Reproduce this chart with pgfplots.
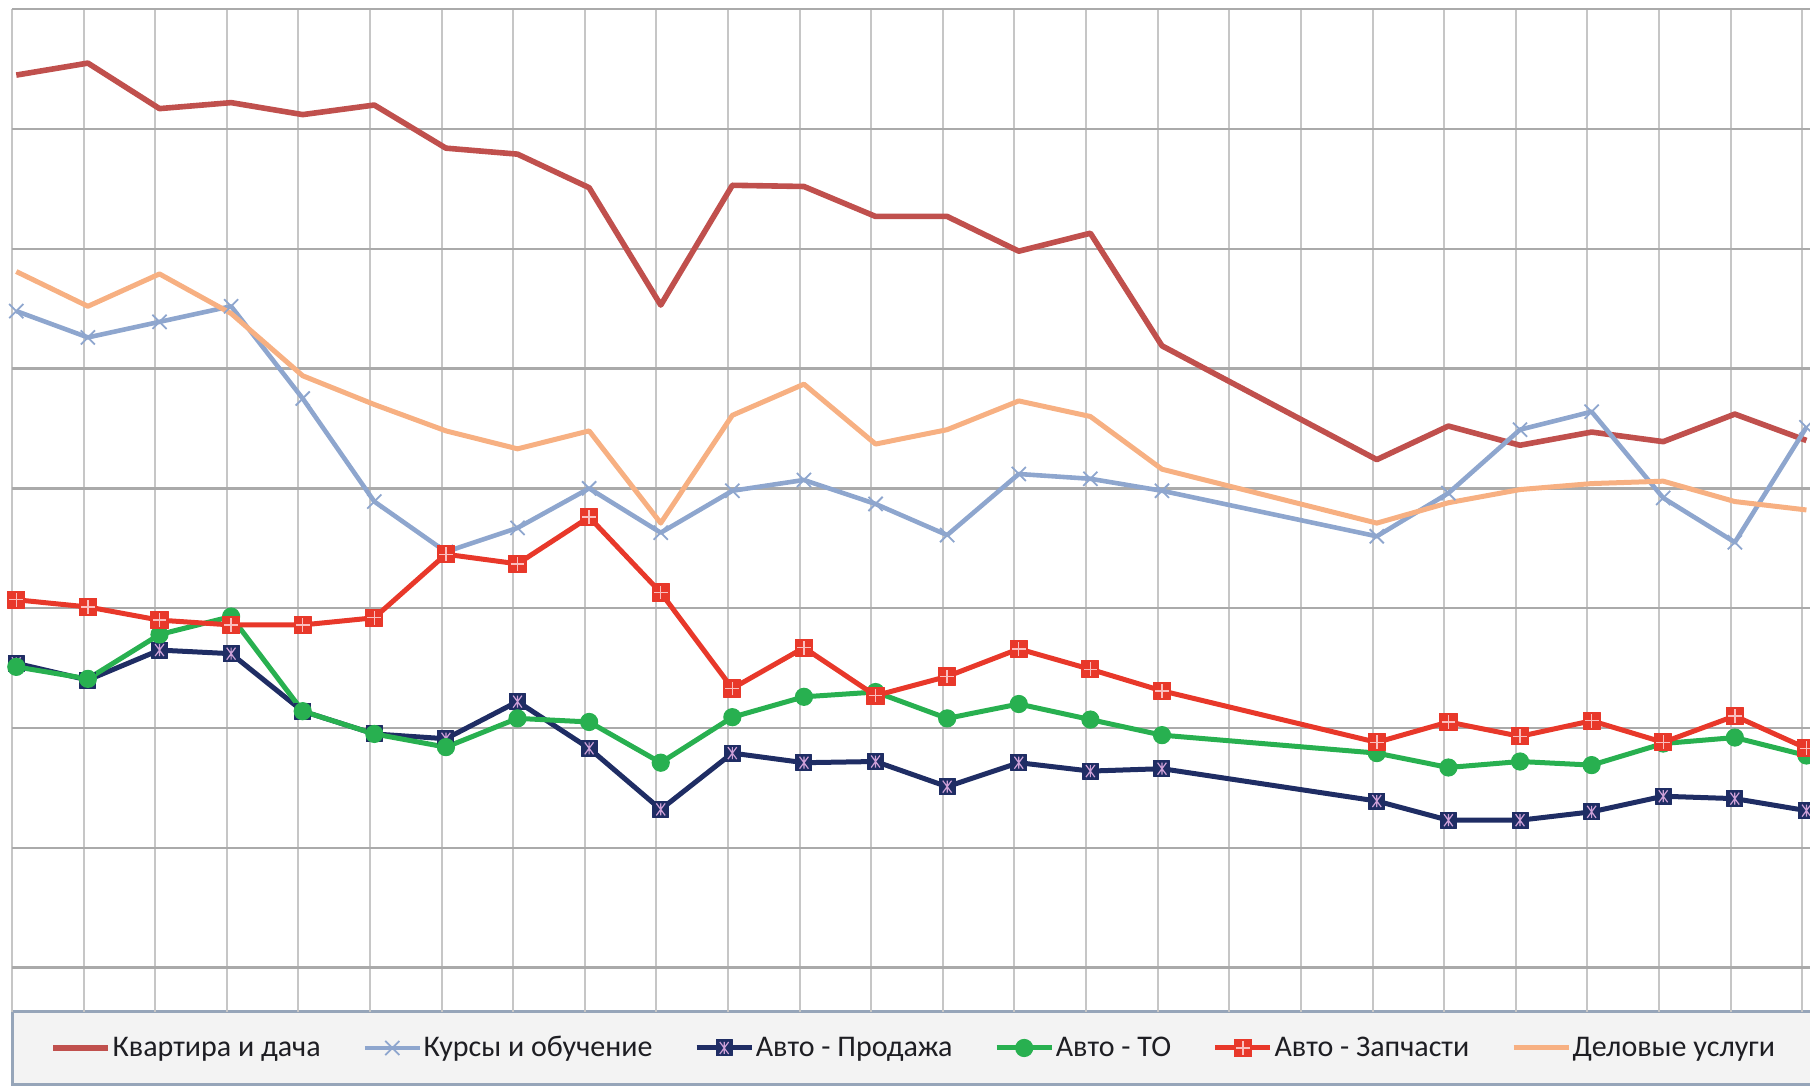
\documentclass[border=0pt]{standalone}
\usepackage{fontspec}
\setmainfont{Carlito}
\usepackage{pgfplots}
\pgfplotsset{compat=1.18}
\definecolor{kv}{RGB}{192,80,77}
\definecolor{ku}{RGB}{142,166,206}
\definecolor{pr}{RGB}{31,45,100}
\definecolor{to}{RGB}{40,176,80}
\definecolor{za}{RGB}{232,56,42}
\definecolor{de}{RGB}{247,176,130}
\definecolor{gridc}{RGB}{198,198,198}
\definecolor{gridh}{RGB}{170,170,170}
\definecolor{legf}{RGB}{243,243,243}
\definecolor{legd}{RGB}{150,165,185}
\definecolor{mkx}{RGB}{205,160,215}
\definecolor{mkp}{RGB}{250,190,190}
\definecolor{txt}{RGB}{30,30,35}
\pgfdeclareplotmark{sqx}{%
  \pgfpathrectangle{\pgfqpoint{-\pgfplotmarksize}{-\pgfplotmarksize}}{\pgfqpoint{2\pgfplotmarksize}{2\pgfplotmarksize}}%
  \pgfusepathqfillstroke
  \begin{pgfscope}
  \pgfsetstrokecolor{mkx}\pgfsetlinewidth{0.6pt}%
  \pgfpathmoveto{\pgfqpoint{-0.55\pgfplotmarksize}{-0.75\pgfplotmarksize}}%
  \pgfpathlineto{\pgfqpoint{0.55\pgfplotmarksize}{0.75\pgfplotmarksize}}%
  \pgfpathmoveto{\pgfqpoint{-0.55\pgfplotmarksize}{0.75\pgfplotmarksize}}%
  \pgfpathlineto{\pgfqpoint{0.55\pgfplotmarksize}{-0.75\pgfplotmarksize}}%
  \pgfpathmoveto{\pgfqpoint{0pt}{-0.75\pgfplotmarksize}}%
  \pgfpathlineto{\pgfqpoint{0pt}{0.75\pgfplotmarksize}}%
  \pgfusepathqstroke
  \end{pgfscope}%
}
\pgfdeclareplotmark{sqplus}{%
  \pgfpathrectangle{\pgfqpoint{-\pgfplotmarksize}{-\pgfplotmarksize}}{\pgfqpoint{2\pgfplotmarksize}{2\pgfplotmarksize}}%
  \pgfusepathqfillstroke
  \begin{pgfscope}
  \pgfsetstrokecolor{mkp}\pgfsetlinewidth{0.7pt}%
  \pgfpathmoveto{\pgfqpoint{-0.8\pgfplotmarksize}{0pt}}%
  \pgfpathlineto{\pgfqpoint{0.8\pgfplotmarksize}{0pt}}%
  \pgfpathmoveto{\pgfqpoint{0pt}{-0.8\pgfplotmarksize}}%
  \pgfpathlineto{\pgfqpoint{0pt}{0.8\pgfplotmarksize}}%
  \pgfusepathqstroke
  \end{pgfscope}%
}
\begin{document}
\begin{tikzpicture}
\path[use as bounding box] (0pt,0pt) rectangle (905pt,543pt);
\draw[fill=legf, draw=legd, line width=1.2pt] (6.3pt,0.8pt) rectangle (912pt,37.3pt);
\begin{axis}[
  at={(6pt,37pt)}, anchor=south west,
  scale only axis, width=899pt, height=501.4pt,
  xmin=-0.06, xmax=25.05, ymin=-0.371, ymax=8,
  xtick={-0.06,0.94,...,24.94}, ytick={0,1,...,8},
  xticklabels={}, yticklabels={}, major tick length=0pt,
  xmajorgrids, ymajorgrids,
  x grid style={gridc, line width=1pt},
  y grid style={gridh, line width=1.2pt},
  axis line style={draw=none},
  every axis plot/.append style={line join=round},
  legend columns=6,
  legend style={draw=none, fill=none, at={(axis description cs:0,0)}, anchor=west,
    xshift=19pt, yshift=-18pt, font=\fontsize{15}{18}\selectfont, text=txt,
    inner sep=0pt, nodes={inner sep=0.8pt},
    /tikz/every even column/.append style={column sep=20.1pt}},
  legend image code/.code={\draw[mark repeat=2,mark phase=2,#1] plot coordinates {(0pt,0pt)(13.75pt,0pt)(27.5pt,0pt)};},
]
\addplot[kv, line width=2.8pt, no marks] coordinates {(0,7.45)(1,7.55)(2,7.17)(3,7.22)(4,7.12)(5,7.20)(6,6.84)(7,6.79)(8,6.51)(9,5.53)(10,6.53)(11,6.52)(12,6.27)(13,6.27)(14,5.98)(15,6.13)(16,5.19)(19,4.24)(20,4.52)(21,4.36)(22,4.47)(23,4.39)(24,4.62)(25,4.40)};
\addlegendentry{Квартира и дача}
\addplot[ku, line width=2.3pt, mark=x, mark size=5pt, mark options={line width=0.9pt}] coordinates {(0,5.48)(1,5.26)(2,5.39)(3,5.52)(4,4.75)(5,3.89)(6,3.47)(7,3.67)(8,4.00)(9,3.63)(10,3.98)(11,4.07)(12,3.87)(13,3.61)(14,4.12)(15,4.08)(16,3.98)(19,3.60)(20,3.96)(21,4.49)(22,4.64)(23,3.92)(24,3.55)(25,4.51)};
\addlegendentry{Курсы и обучение}
\addplot[pr, line width=2.5pt, mark=sqx, mark size=4pt, mark options={fill=pr, draw=pr, line width=0.5pt}] coordinates {(0,2.54)(1,2.40)(2,2.65)(3,2.62)(4,2.14)(5,1.95)(6,1.91)(7,2.22)(8,1.83)(9,1.32)(10,1.79)(11,1.71)(12,1.72)(13,1.51)(14,1.71)(15,1.64)(16,1.66)(19,1.39)(20,1.23)(21,1.23)(22,1.30)(23,1.43)(24,1.41)(25,1.31)};
\addlegendentry{Авто - Продажа}
\addplot[to, line width=2.5pt, mark=*, mark size=4.3pt, mark options={fill=to, draw=to, line width=0.5pt}] coordinates {(0,2.51)(1,2.41)(2,2.78)(3,2.93)(4,2.14)(5,1.95)(6,1.84)(7,2.08)(8,2.05)(9,1.71)(10,2.09)(11,2.26)(12,2.30)(13,2.08)(14,2.20)(15,2.07)(16,1.94)(19,1.79)(20,1.67)(21,1.72)(22,1.69)(23,1.87)(24,1.92)(25,1.77)};
\addlegendentry{Авто - ТО}
\addplot[za, line width=2.5pt, mark=sqplus, mark size=4.3pt, mark options={fill=za, draw=za, line width=0.5pt}] coordinates {(0,3.07)(1,3.01)(2,2.90)(3,2.86)(4,2.86)(5,2.92)(6,3.45)(7,3.37)(8,3.76)(9,3.13)(10,2.33)(11,2.67)(12,2.27)(13,2.43)(14,2.66)(15,2.49)(16,2.31)(19,1.88)(20,2.05)(21,1.93)(22,2.06)(23,1.88)(24,2.10)(25,1.83)};
\addlegendentry{Авто - Запчасти}
\addplot[de, line width=2.5pt, no marks] coordinates {(0,5.81)(1,5.52)(2,5.79)(3,5.46)(4,4.94)(5,4.70)(6,4.48)(7,4.33)(8,4.48)(9,3.71)(10,4.61)(11,4.87)(12,4.37)(13,4.49)(14,4.73)(15,4.60)(16,4.16)(19,3.71)(20,3.88)(21,3.99)(22,4.04)(23,4.06)(24,3.89)(25,3.82)};
\addlegendentry{Деловые услуги}
\end{axis}
\end{tikzpicture}
\end{document}
